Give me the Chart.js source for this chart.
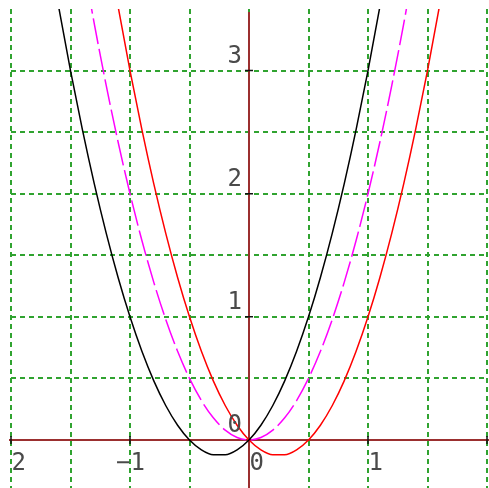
<!DOCTYPE html>
<html>
<head>
<meta charset="utf-8">
<script src="https://cdn.jsdelivr.net/npm/chart.js@4/dist/chart.umd.min.js"></script>
<style>
  html, body { margin: 0; padding: 0; background: #fff; overflow: hidden; }
  canvas { display: block; }
</style>
</head>
<body>
<canvas id="plot" width="489" height="488"></canvas>
<script>
// sample positions along x
const xValues = [-1.7, -1.6, -1.5, -1.4, -1.3, -1.2, -1.1, -1.0, -0.9, -0.8, -0.7, -0.6,
  -0.5, -0.4, -0.3, -0.2, -0.1, 0, 0.1, 0.2, 0.3, 0.4, 0.5, 0.6, 0.7, 0.8, 0.9, 1.0,
  1.1, 1.2, 1.3, 1.4, 1.5, 1.6, 1.7];

// black curve
const blackY = [4.08, 3.52, 3.00, 2.52, 2.08, 1.68, 1.32, 1.00, 0.72, 0.48, 0.28, 0.12,
  0.00, -0.08, -0.12, -0.12, -0.08, 0, 0.12, 0.28, 0.48, 0.72, 1.00, 1.32, 1.68, 2.08, 2.52, 3.00,
  3.52, 4.08, null, null, null, null, null];

// magenta (dashed) curve
const magentaY = [null, null, null, 3.92, 3.38, 2.88, 2.42, 2.00, 1.62, 1.28, 0.98, 0.72,
  0.50, 0.32, 0.18, 0.08, 0.02, 0, 0.02, 0.08, 0.18, 0.32, 0.50, 0.72, 0.98, 1.28, 1.62, 2.00,
  2.42, 2.88, 3.38, 3.92, null, null, null];

// red curve
const redY = [null, null, null, null, null, 4.08, 3.52, 3.00, 2.52, 2.08, 1.68, 1.32,
  1.00, 0.72, 0.48, 0.28, 0.12, 0, -0.08, -0.12, -0.12, -0.08, 0.00, 0.12, 0.28, 0.48, 0.72, 1.00,
  1.32, 1.68, 2.08, 2.52, 3.00, 3.52, 4.08];

const xTickLabels = [-2, -1, 0, 1];
const yTickLabels = [0, 1, 2, 3];

const X_MIN = -2, X_MAX = 2, Y_MIN = -0.39, Y_MAX = 3.5;

function toPoints(ys) {
  return xValues.map((x, i) => ({ x: x, y: ys[i] }));
}

const gridGreen = '#30a330';
const axisRed = '#9b2f2f';
const labelFont = '24px "DejaVu Sans Mono", monospace';

// axes through the origin, small black ticks at whole units
const axesPlugin = {
  id: 'originAxes',
  beforeDatasetsDraw(chart) {
    const { ctx, scales: { x, y } } = chart;
    const x0 = x.getPixelForValue(0);
    const y0 = y.getPixelForValue(0);
    ctx.save();
    ctx.strokeStyle = axisRed;
    ctx.lineWidth = 2;
    ctx.beginPath();
    ctx.moveTo(x.left - 2, y0);
    ctx.lineTo(chart.width, y0);
    ctx.moveTo(x0, y.top + 3);
    ctx.lineTo(x0, chart.height);
    ctx.stroke();

    ctx.strokeStyle = '#111';
    ctx.lineWidth = 1.5;
    ctx.beginPath();
    [-2, -1, 1, 2].forEach(v => {
      const px = x.getPixelForValue(v);
      ctx.moveTo(px, y0 - 4);
      ctx.lineTo(px, y0 + 4);
    });
    [1, 2, 3].forEach(v => {
      const py = y.getPixelForValue(v);
      ctx.moveTo(x0 - 4, py);
      ctx.lineTo(x0 + 4, py);
    });
    ctx.stroke();
    ctx.restore();
  },
  afterDraw(chart) {
    const { ctx, scales: { x, y } } = chart;
    const x0 = x.getPixelForValue(0);
    const y0 = y.getPixelForValue(0);
    ctx.save();
    // labels are cut at the left edge of the plot
    ctx.beginPath();
    ctx.rect(x.left, 0, chart.width - x.left, chart.height);
    ctx.clip();
    ctx.font = labelFont;
    ctx.fillStyle = '#4a4a4a';
    ctx.textAlign = 'right';
    ctx.textBaseline = 'alphabetic';
    xTickLabels.forEach(v => {
      const text = v < 0 ? '\u2212' + Math.abs(v) : String(v);
      ctx.fillText(text, x.getPixelForValue(v) + 15, y0 + 30);
    });
    yTickLabels.forEach(v => {
      ctx.fillText(String(v), x0 - 7, y.getPixelForValue(v) - 8);
    });
    ctx.restore();
  }
};

new Chart(document.getElementById('plot'), {
  type: 'line',
  data: {
    datasets: [
      {
        data: toPoints(blackY),
        borderColor: '#000',
        borderWidth: 1.5,
        pointRadius: 0,
        cubicInterpolationMode: 'monotone'
      },
      {
        data: toPoints(magentaY),
        borderColor: '#ff00ff',
        borderWidth: 1.5,
        borderDash: [26, 5],
        pointRadius: 0,
        cubicInterpolationMode: 'monotone'
      },
      {
        data: toPoints(redY),
        borderColor: '#ff0000',
        borderWidth: 1.5,
        pointRadius: 0,
        cubicInterpolationMode: 'monotone'
      }
    ]
  },
  options: {
    responsive: false,
    animation: false,
    events: [],
    layout: { padding: { left: 11, right: 2, top: 9, bottom: 0 } },
    plugins: {
      legend: { display: false },
      tooltip: { enabled: false }
    },
    scales: {
      x: {
        type: 'linear',
        min: X_MIN,
        max: X_MAX,
        ticks: { display: false, stepSize: 0.5 },
        grid: { color: gridGreen, lineWidth: 2, drawTicks: false },
        border: { display: false, dash: [5, 4] }
      },
      y: {
        type: 'linear',
        min: Y_MIN,
        max: Y_MAX,
        ticks: { display: false, stepSize: 0.5 },
        grid: {
          color: c => (c.tick && (c.tick.value >= Y_MAX || c.tick.value < -0.1)) ? 'rgba(0,0,0,0)' : gridGreen,
          lineWidth: 2,
          drawTicks: false
        },
        border: { display: false, dash: [5, 4] }
      }
    }
  },
  plugins: [axesPlugin]
});
</script>
</body>
</html>
